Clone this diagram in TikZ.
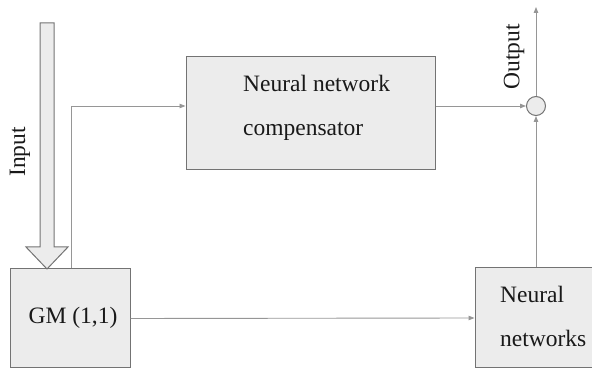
\documentclass[tikz,border=0pt]{standalone}
\usepackage{fontspec}
\setmainfont{Liberation Serif}
\usetikzlibrary{arrows.meta,calc}
\definecolor{boxfill}{RGB}{236,236,236}
\definecolor{boxline}{RGB}{115,115,115}
\definecolor{wire}{RGB}{150,150,150}
\begin{document}
\begin{tikzpicture}[x=1pt,y=-1pt,
  blk/.style={draw=boxline,fill=boxfill,line width=1pt,inner sep=0pt},
  txt/.style={font=\fontsize{23.5}{44}\selectfont,align=left,inner sep=0pt,text=black!90},
  wireline/.style={draw=wire,line width=0.9pt},
  arr/.style={wireline,-{Triangle[length=6pt,width=4.5pt]}}]
\useasboundingbox (0,0) rectangle (592,371);
% blocks
\node[blk,minimum width=120pt,minimum height=99pt] (gm) at (70,318.5) {};
\node[txt] (gmtext) at (73,318) {GM (1,1)};
\node[blk,minimum width=249pt,minimum height=113pt] (comp) at (310.5,113.5) {};
\node[txt,anchor=west] (comptext) at (243,108) {Neural network\\compensator};
\node[blk,minimum width=118pt,minimum height=100pt] (nn) at (534,318) {};
\node[txt,anchor=west] (nntext) at (500,316) {Neural\\networks};
\node[draw=boxline,fill=boxfill,circle,line width=1pt,minimum size=19pt,inner sep=0pt] (sum) at (536,106) {};
% input hollow arrow
\draw[draw=boxline,fill=boxfill,line width=1pt]
  (40,23) -- (54,23) -- (54,247) -- (68,247) -- (47,269) -- (26,247) -- (40,247) -- cycle;
\node[txt,rotate=90] (input) at (20,152) {Input};
% connectors
\coordinate (c1) at (71,106);
\draw[arr] (gm.north -| c1) -- (c1) -- (c1 -| comp.west);
\draw[arr] (gm.east) -- (nn.west);
\draw[arr] (comp.east |- sum) -- (sum.west);
\draw[arr] (nn.north -| sum) -- (sum.south);
\coordinate (out) at (536,7);
\draw[arr] (sum.north) -- (out);
\node[txt,rotate=90] (output) at (514,57) {Output};
\end{tikzpicture}
\end{document}
